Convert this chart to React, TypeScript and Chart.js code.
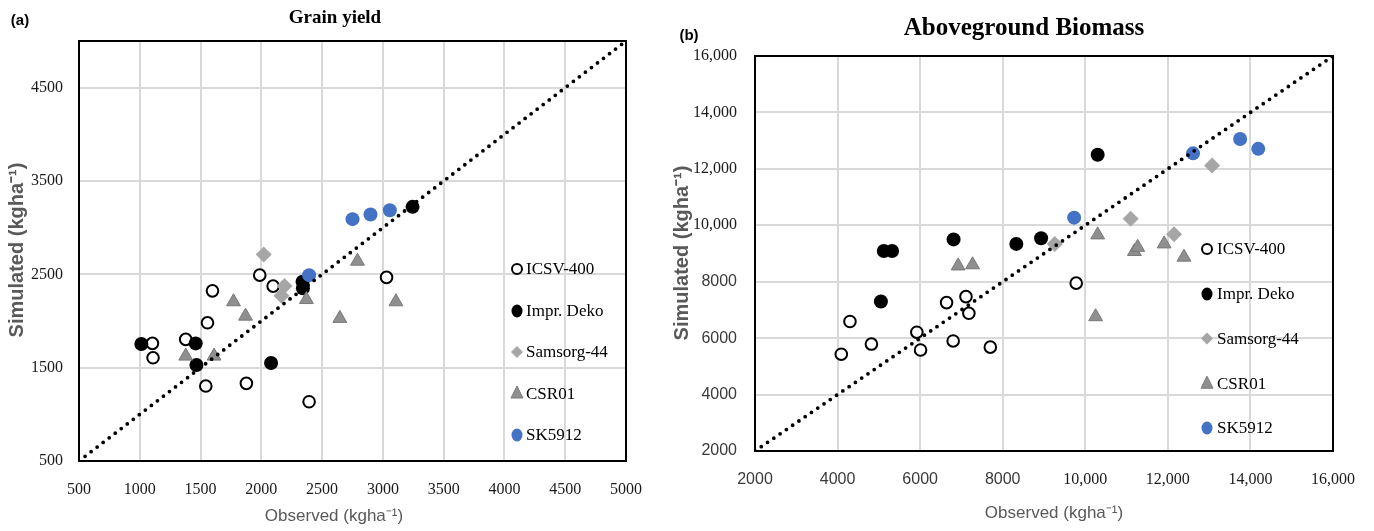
import React, { useEffect, useRef } from "react";
import { Chart, registerables } from "chart.js";
Chart.register(...registerables);

const SERIF = '"Liberation Serif", "DejaVu Serif", serif';
const SANS = '"Liberation Sans", Arial, sans-serif';

const seriesNames = ["ICSV-400", "Impr. Deko", "Samsorg-44", "CSR01", "SK5912"];

// ---------- Panel (a): Grain yield ----------
const gyIcsvObs = [1104, 1109, 1378, 1557, 1598, 1543, 1877, 1987, 2097, 2393, 3030];
const gyIcsvSim = [1760, 1606, 1803, 1981, 2323, 1303, 1332, 2491, 2374, 1135, 2467];
const gyDekoObs = [1013, 1460, 1466, 2080, 2339, 2342, 3244];
const gyDekoSim = [1753, 1760, 1528, 1550, 2420, 2350, 3223];
const gySamsObs = [2020, 2190, 2166];
const gySamsSim = [2713, 2374, 2270];
const gyCsrObs = [1378, 1611, 1771, 1870, 2371, 2646, 2791, 3107];
const gyCsrSim = [1624, 1624, 2206, 2052, 2230, 2028, 2641, 2206];
const gySkObs = [2393, 2750, 2898, 3057];
const gySkSim = [2491, 3091, 3141, 3187];
const gyXTicks = [500, 1000, 1500, 2000, 2500, 3000, 3500, 4000, 4500, 5000];
const gyYTicks = [500, 1500, 2500, 3500, 4500];
const gyLine = [550, 5000];

// ---------- Panel (b): Aboveground Biomass ----------
const bmIcsvObs = [4090, 4300, 4820, 5920, 6010, 6640, 6800, 7110, 7180, 7700, 9780];
const bmIcsvSim = [5430, 6590, 5790, 6210, 5580, 7260, 5900, 7470, 6880, 5680, 7950];
const bmDekoObs = [5050, 5120, 5320, 6810, 8330, 8930, 10300];
const bmDekoSim = [7300, 9090, 9090, 9500, 9340, 9540, 12500];
const bmSamsObs = [9260, 11100, 12150, 13070];
const bmSamsSim = [9340, 10230, 9680, 12120];
const bmCsrObs = [6920, 7270, 10300, 10250, 11190, 11270, 11910, 12390];
const bmCsrSim = [8560, 8600, 9660, 6760, 9070, 9220, 9340, 8870];
const bmSkObs = [9730, 12610, 13750, 14190];
const bmSkSim = [10270, 12550, 13060, 12710];
const bmXTicks = [2000, 4000, 6000, 8000, 10000, 12000, 14000, 16000];
const bmYTicks = [2000, 4000, 6000, 8000, 10000, 12000, 14000, 16000];
const bmLine = [2000, 16000];

const styles = [
  { pointStyle: "circle", radius: 5.8, bg: "#ffffff", border: "#000000", bw: 2 },
  { pointStyle: "circle", radius: 7, bg: "#000000", border: "#000000", bw: 0 },
  { pointStyle: "rectRot", radius: 8, bg: "#a6a6a6", border: "#a6a6a6", bw: 0 },
  { pointStyle: "triangle", radius: 8, bg: "#8f8f8f", border: "#787878", bw: 1 },
  { pointStyle: "circle", radius: 7, bg: "#4472c4", border: "#4472c4", bw: 0 },
];

const fmtComma = (v: number) => (v >= 10000 ? v.toLocaleString("en-US") : String(v));

function drawMarker(ctx: CanvasRenderingContext2D, i: number, x: number, y: number) {
  const s = styles[i];
  ctx.save();
  ctx.beginPath();
  if (s.pointStyle === "circle") {
    if (i === 0) ctx.arc(x, y, 5, 0, Math.PI * 2);
    else ctx.ellipse(x, y, 5.5, 6.5, 0, 0, Math.PI * 2);
  } else if (s.pointStyle === "rectRot") {
    const r = 6;
    ctx.moveTo(x, y - r);
    ctx.lineTo(x + r, y);
    ctx.lineTo(x, y + r);
    ctx.lineTo(x - r, y);
    ctx.closePath();
  } else {
    const r = 7.5;
    ctx.moveTo(x, y - r);
    ctx.lineTo(x + r * 0.8, y + r * 0.6);
    ctx.lineTo(x - r * 0.8, y + r * 0.6);
    ctx.closePath();
  }
  ctx.fillStyle = s.bg;
  ctx.fill();
  if (s.bw > 0) {
    ctx.lineWidth = i === 0 ? 2 : s.bw;
    ctx.strokeStyle = s.border;
    ctx.stroke();
  }
  ctx.restore();
}

type PanelCfg = {
  width: number;
  series: { obs: number[]; sim: number[] }[];
  line: number[];
  xTicks: number[];
  yTicks: number[];
  xMin: number; xMax: number; yMin: number; yMax: number;
  yWidth: number; xHeight: number; padTop: number; padRight: number;
  yTickPad: number; xTickPad: number;
  tickFont: (v: number) => { family: string; size: number; weight?: string };
  tickColor: (v: number) => string;
  letter: string; letterPos: [number, number];
  title: string; titlePos: [number, number]; titleFont: string;
  yTitlePos: [number, number]; xTitlePos: [number, number];
  legendX: number; legendTextX: number; legendYs: number[];
};

function buildConfig(p: PanelCfg): any {
  const datasets: any[] = [
    {
      label: "1:1",
      data: [{ x: p.line[0], y: p.line[0] }, { x: p.line[1], y: p.line[1] }],
      showLine: true,
      borderColor: "#000000",
      borderWidth: 3.8,
      borderDash: [0, 7.6],
      borderCapStyle: "round",
      pointRadius: 0,
      fill: false,
      order: 0,
    },
    ...p.series.map((s, i) => ({
      label: seriesNames[i],
      data: s.obs.map((x, j) => ({ x, y: s.sim[j] })),
      pointStyle: styles[i].pointStyle,
      pointRadius: styles[i].radius,
      backgroundColor: styles[i].bg,
      borderColor: styles[i].border,
      borderWidth: styles[i].bw,
      showLine: false,
      order: 5 - i,
    })),
  ];

  const decor = {
    id: "decor",
    beforeDatasetsDraw(chart: any) {
      const { ctx, chartArea: a } = chart;
      ctx.save();
      ctx.strokeStyle = "#000000";
      ctx.lineWidth = 2;
      ctx.strokeRect(a.left, a.top, a.right - a.left, a.bottom - a.top);
      ctx.restore();
    },
    afterDraw(chart: any) {
      const ctx: CanvasRenderingContext2D = chart.ctx;
      ctx.save();
      ctx.textBaseline = "middle";
      ctx.fillStyle = "#000000";
      ctx.font = `bold 15px ${SANS}`;
      ctx.textAlign = "center";
      ctx.fillText(p.letter, p.letterPos[0], p.letterPos[1]);
      ctx.font = p.titleFont;
      ctx.fillText(p.title, p.titlePos[0], p.titlePos[1]);
      ctx.fillStyle = "#595959";
      ctx.font = `17px ${SANS}`;
      ctx.fillText("Observed (kgha\u207B\u00B9)", p.xTitlePos[0], p.xTitlePos[1]);
      ctx.save();
      ctx.translate(p.yTitlePos[0], p.yTitlePos[1]);
      ctx.rotate(-Math.PI / 2);
      ctx.font = `bold 20px ${SANS}`;
      ctx.fillText("Simulated (kgha\u207B\u00B9)", 0, 0);
      ctx.restore();
      seriesNames.forEach((name, i) => {
        drawMarker(ctx, i, p.legendX, p.legendYs[i]);
        ctx.fillStyle = "#000000";
        ctx.font = `17px ${SERIF}`;
        ctx.textAlign = "left";
        ctx.textBaseline = "middle";
        ctx.fillText(name, p.legendTextX, p.legendYs[i] + 1);
      });
      ctx.restore();
    },
  };

  return {
    type: "scatter",
    data: { datasets },
    options: {
      responsive: false,
      animation: false,
      events: [],
      layout: { padding: { left: 0, right: p.padRight, top: p.padTop, bottom: 0 } },
      plugins: { legend: { display: false }, tooltip: { enabled: false }, title: { display: false } },
      scales: {
        x: {
          type: "linear",
          min: p.xMin,
          max: p.xMax,
          afterBuildTicks: (s: any) => { s.ticks = p.xTicks.map((v) => ({ value: v })); },
          afterFit: (s: any) => { s.height = p.xHeight; },
          grid: { color: "#d9d9d9", lineWidth: 2, drawTicks: false },
          border: { display: false },
          ticks: {
            padding: p.xTickPad,
            maxRotation: 0,
            autoSkip: false,
            callback: (v: any) => fmtComma(Number(v)),
            font: (c: any) => p.tickFont(c.tick ? c.tick.value : 0),
            color: (c: any) => p.tickColor(c.tick ? c.tick.value : 0),
          },
        },
        y: {
          type: "linear",
          min: p.yMin,
          max: p.yMax,
          afterBuildTicks: (s: any) => { s.ticks = p.yTicks.map((v) => ({ value: v })); },
          afterFit: (s: any) => { s.width = p.yWidth; },
          grid: { color: "#d9d9d9", lineWidth: 2, drawTicks: false },
          border: { display: false },
          ticks: {
            padding: p.yTickPad,
            autoSkip: false,
            callback: (v: any) => fmtComma(Number(v)),
            font: (c: any) => p.tickFont(c.tick ? c.tick.value : 0),
            color: (c: any) => p.tickColor(c.tick ? c.tick.value : 0),
          },
        },
      },
    },
    plugins: [decor],
  };
}

const panelA: PanelCfg = {
  width: 670,
  series: [
    { obs: gyIcsvObs, sim: gyIcsvSim },
    { obs: gyDekoObs, sim: gyDekoSim },
    { obs: gySamsObs, sim: gySamsSim },
    { obs: gyCsrObs, sim: gyCsrSim },
    { obs: gySkObs, sim: gySkSim },
  ],
  line: gyLine,
  xTicks: gyXTicks,
  yTicks: gyYTicks,
  xMin: 500, xMax: 5000, yMin: 500, yMax: 5000,
  yWidth: 79, xHeight: 70, padTop: 41, padRight: 44,
  yTickPad: 16, xTickPad: 19,
  tickFont: () => ({ family: SERIF, size: 16 }),
  tickColor: () => "#1a1a1a",
  letter: "(a)", letterPos: [20, 21],
  title: "Grain yield", titlePos: [335, 18], titleFont: `bold 19px ${SERIF}`,
  yTitlePos: [17, 250], xTitlePos: [334, 516],
  legendX: 517, legendTextX: 526, legendYs: [269, 311, 352, 393.5, 435],
};

const panelB: PanelCfg = {
  width: 706,
  series: [
    { obs: bmIcsvObs, sim: bmIcsvSim },
    { obs: bmDekoObs, sim: bmDekoSim },
    { obs: bmSamsObs, sim: bmSamsSim },
    { obs: bmCsrObs, sim: bmCsrSim },
    { obs: bmSkObs, sim: bmSkSim },
  ],
  line: bmLine,
  xTicks: bmXTicks,
  yTicks: bmYTicks,
  xMin: 2000, xMax: 16000, yMin: 2000, yMax: 16000,
  yWidth: 87, xHeight: 80, padTop: 56, padRight: 35,
  yTickPad: 18, xTickPad: 19,
  tickFont: (v) => (v >= 10000 ? { family: SERIF, size: 16 } : { family: SANS, size: 16 }),
  tickColor: (v) => (v >= 10000 ? "#1a1a1a" : "#3a3a3a"),
  letter: "(b)", letterPos: [21, 36],
  title: "Aboveground Biomass", titlePos: [356, 29], titleFont: `bold 25px ${SERIF}`,
  yTitlePos: [14, 253], xTitlePos: [386, 513],
  legendX: 539, legendTextX: 549, legendYs: [249, 294, 338.6, 383.7, 428],
};

function Panel({ cfg, left }: { cfg: PanelCfg; left: number }) {
  const ref = useRef<HTMLCanvasElement>(null);
  useEffect(() => {
    const chart = new Chart(ref.current as HTMLCanvasElement, buildConfig(cfg));
    return () => chart.destroy();
  }, [cfg]);
  return (
    <div style={{ position: "absolute", left, top: 0, width: cfg.width, height: 531 }}>
      <canvas ref={ref} width={cfg.width} height={531} style={{ width: cfg.width, height: 531, display: "block" }} />
    </div>
  );
}

export default function App() {
  return (
    <div style={{ position: "fixed", left: 0, top: 0, width: 1374, height: 531, background: "#ffffff", overflow: "hidden" }}>
      <Panel cfg={panelA} left={0} />
      <Panel cfg={panelB} left={668} />
    </div>
  );
}
